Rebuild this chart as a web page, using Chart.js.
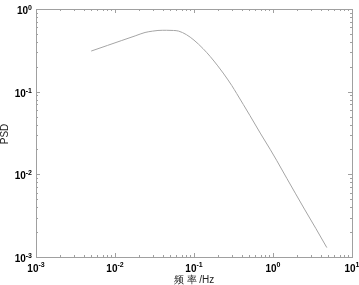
<!DOCTYPE html>
<html>
<head>
<meta charset="utf-8">
<script src="https://cdn.jsdelivr.net/npm/chart.js@4"></script>
<style>
  body { margin: 0; background: #fff; }
  canvas { display: block; }
</style>
</head>
<body>
<canvas id="psd" width="359" height="285"></canvas>
<script>
// values (Hz, PSD)
const freq = [0.005, 0.008, 0.012, 0.018, 0.024, 0.03, 0.035, 0.045, 0.055, 0.064,
  0.08, 0.1, 0.13, 0.16, 0.2, 0.234, 0.3, 0.347, 0.42, 0.51, 0.7, 0.92, 1.11, 1.5, 2.5, 3.5, 4.8];
const psd = [0.31, 0.362, 0.414, 0.473, 0.52, 0.54, 0.55, 0.553, 0.55, 0.54,
  0.49, 0.42, 0.332, 0.267, 0.205, 0.168, 0.119, 0.095, 0.0702, 0.0515, 0.0308, 0.0201, 0.0148, 0.0089, 0.0038, 0.0022, 0.0013];
const xDecades = [-3, -2, -1, 0, 1];
const yDecades = [-3, -2, -1, 0];
const xTitle = "频 率 /Hz";
const yTitle = "PSD";

const FONT = "Liberation Sans, Arial, sans-serif";

// MATLAB style frame, inward ticks and 10^n labels
const matlabAxes = {
  id: "matlabAxes",
  afterDraw(chart) {
    const ctx = chart.ctx;
    const a = chart.chartArea;
    const xs = chart.scales.x;
    const ys = chart.scales.y;
    ctx.save();
    ctx.strokeStyle = "#a0a0a0";
    ctx.lineWidth = 1;
    ctx.strokeRect(Math.round(a.left) + 0.5, Math.round(a.top) + 0.5,
      Math.round(a.right - a.left), Math.round(a.bottom - a.top));

    ctx.beginPath();
    xDecades.forEach((d) => {
      for (let m = 1; m <= 9; m++) {
        const v = m * Math.pow(10, d);
        if (v > 10 + 1e-9) continue;
        const px = Math.round(xs.getPixelForValue(v)) + 0.5;
        const len = m === 1 ? 4 : 2;
        ctx.moveTo(px, a.bottom);
        ctx.lineTo(px, a.bottom - len);
        ctx.moveTo(px, a.top);
        ctx.lineTo(px, a.top + len);
      }
    });
    yDecades.forEach((d) => {
      for (let m = 1; m <= 9; m++) {
        const v = m * Math.pow(10, d);
        if (v > 1 + 1e-9) continue;
        const py = Math.round(ys.getPixelForValue(v)) + 0.5;
        const len = m === 1 ? 4 : 2;
        ctx.moveTo(a.left, py);
        ctx.lineTo(a.left + len, py);
        ctx.moveTo(a.right, py);
        ctx.lineTo(a.right - len, py);
      }
    });
    ctx.stroke();

    ctx.fillStyle = "#000";
    ctx.textBaseline = "alphabetic";
    const big = "bold 10px " + FONT;
    const small = "bold 7px " + FONT;

    xDecades.forEach((d) => {
      const px = xs.getPixelForValue(Math.pow(10, d));
      ctx.font = big;
      const wb = ctx.measureText("10").width;
      ctx.font = small;
      const ws = ctx.measureText(String(d)).width;
      const x0 = px - (wb + ws) / 2;
      ctx.textAlign = "left";
      ctx.font = big;
      ctx.fillText("10", x0, 272);
      ctx.font = small;
      ctx.fillText(String(d), x0 + wb, 267);
    });

    yDecades.forEach((d) => {
      const py = ys.getPixelForValue(Math.pow(10, d));
      ctx.textAlign = "right";
      ctx.font = small;
      const ws = ctx.measureText(String(d)).width;
      ctx.fillText(String(d), 32, py + 1);
      ctx.font = big;
      ctx.fillText("10", 32 - ws, py + 5);
    });

    ctx.fillStyle = "#222";
    ctx.textAlign = "center";
    ctx.font = "10px " + FONT;
    ctx.fillText(xTitle, (a.left + a.right) / 2, 283);
    ctx.translate(8, (a.top + a.bottom) / 2 + 1);
    ctx.rotate(-Math.PI / 2);
    ctx.fillText(yTitle, 0, 0);
    ctx.restore();
  },
};

const points = freq.map((f, i) => ({ x: f, y: psd[i] }));

new Chart(document.getElementById("psd"), {
  type: "line",
  data: {
    datasets: [
      {
        data: points,
        borderColor: "rgb(165,165,165)",
        borderWidth: 1,
        pointRadius: 0,
        cubicInterpolationMode: "monotone",
        fill: false,
      },
    ],
  },
  options: {
    responsive: false,
    animation: false,
    devicePixelRatio: 1,
    layout: { padding: { top: 9, right: 7, left: 0, bottom: 0 } },
    plugins: { legend: { display: false }, tooltip: { enabled: false } },
    scales: {
      x: {
        type: "logarithmic",
        min: 0.001,
        max: 10,
        ticks: { display: false },
        grid: { display: false },
        border: { display: false },
        afterFit: (scale) => { scale.height = 28; },
      },
      y: {
        type: "logarithmic",
        min: 0.001,
        max: 1,
        ticks: { display: false },
        grid: { display: false },
        border: { display: false },
        afterFit: (scale) => { scale.width = 36; },
      },
    },
  },
  plugins: [matlabAxes],
});
</script>
</body>
</html>
